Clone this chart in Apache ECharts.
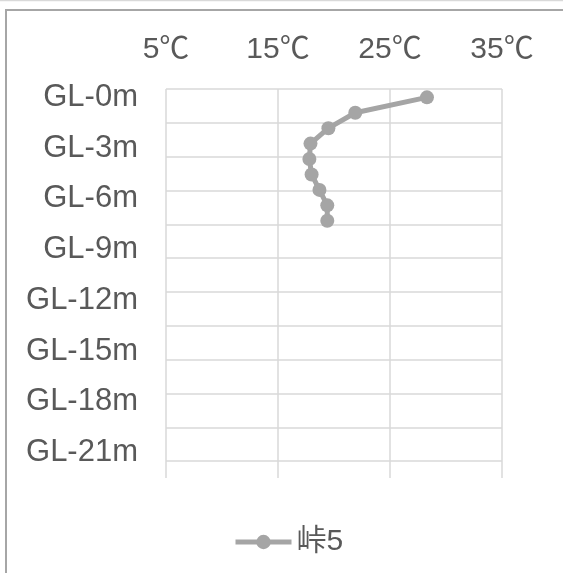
<!DOCTYPE html>
<html>
<head>
<meta charset="utf-8">
<script src="https://cdn.jsdelivr.net/npm/echarts@6/dist/echarts.min.js"></script>
<style>
html,body{margin:0;padding:0;background:#fff;}
#chart{width:563px;height:573px;}
</style>
</head>
<body>
<div id="chart"></div>
<script>
// Depth categories (every 3rd label is shown, like the source chart)
var depthCategories = ['GL-0m','GL-1m','GL-2m','GL-3m','GL-4m','GL-5m','GL-6m','GL-7m','GL-8m','GL-9m','GL-10m','GL-11m','GL-12m','GL-13m','GL-14m','GL-15m','GL-16m','GL-17m','GL-18m','GL-19m','GL-20m','GL-21m','GL-22m'];
// Temperature axis ticks
var tempTicks = [5, 15, 25, 35];
// Series "峠5": measured depth (m) and temperature (℃)
var seriesName = '峠5';
var depths = [0, 1, 2, 3, 4, 5, 6, 7, 8];
var temps = [28.3, 21.9, 19.5, 17.9, 17.8, 18.0, 18.7, 19.4, 19.4];

var pts = depths.map(function (d, i) { return [temps[i], d]; });

var textColor = '#595959';
var gridColor = '#d9d9d9';
var fontFam = '"Liberation Sans", Arial, "Noto Sans CJK JP", sans-serif';

var chart = echarts.init(document.getElementById('chart'), null, {renderer: 'canvas'});
chart.setOption({
  animation: false,
  backgroundColor: '#ffffff',
  graphic: [
    {type: 'line', shape: {x1: 0, y1: 0.5, x2: 563, y2: 0.5}, style: {stroke: '#d9d9d9', lineWidth: 1.5}, silent: true},
    {type: 'rect', shape: {x: 6, y: 10, width: 700, height: 700}, style: {fill: null, stroke: '#a6a6a6', lineWidth: 2}, silent: true}
  ],
  grid: {left: 166, right: 61, top: 89, bottom: 95, containLabel: false},
  legend: {
    data: [seriesName],
    left: 228,
    top: 522,
    itemWidth: 56,
    itemHeight: 18,
    itemGap: 10,
    lineStyle: {width: 5},
    textStyle: {color: textColor, fontSize: 30, fontFamily: fontFam}
  },
  xAxis: [{
    type: 'value',
    position: 'top',
    min: tempTicks[0],
    max: tempTicks[tempTicks.length - 1],
    interval: tempTicks[1] - tempTicks[0],
    axisLine: {show: false},
    axisTick: {show: false},
    axisLabel: {formatter: '{value}℃', color: textColor, fontSize: 30, fontFamily: fontFam, margin: 24},
    splitLine: {show: true, lineStyle: {color: gridColor, width: 1.5}}
  }],
  yAxis: [
    {
      type: 'category',
      data: depthCategories,
      inverse: true,
      boundaryGap: true,
      axisLine: {show: false},
      axisTick: {show: false},
      splitLine: {show: false},
      axisLabel: {interval: 2, color: textColor, fontSize: 31, fontFamily: fontFam, margin: 28}
    },
    {
      type: 'value',
      inverse: true,
      min: 0,
      max: depthCategories.length,
      interval: 2,
      position: 'left',
      axisLine: {show: false},
      axisTick: {show: false},
      axisLabel: {show: false},
      splitLine: {show: true, showMaxLine: false, lineStyle: {color: gridColor, width: 1.5}}
    },
    {
      type: 'value',
      inverse: true,
      min: -0.54,
      max: 24.67,
      show: false,
      splitLine: {show: false}
    }
  ],
  series: [{
    name: seriesName,
    type: 'line',
    xAxisIndex: 0,
    yAxisIndex: 2,
    data: pts,
    symbol: 'circle',
    symbolSize: 14,
    itemStyle: {color: '#a5a5a5'},
    lineStyle: {color: '#a5a5a5', width: 5},
    z: 3
  }]
});
</script>
</body>
</html>
